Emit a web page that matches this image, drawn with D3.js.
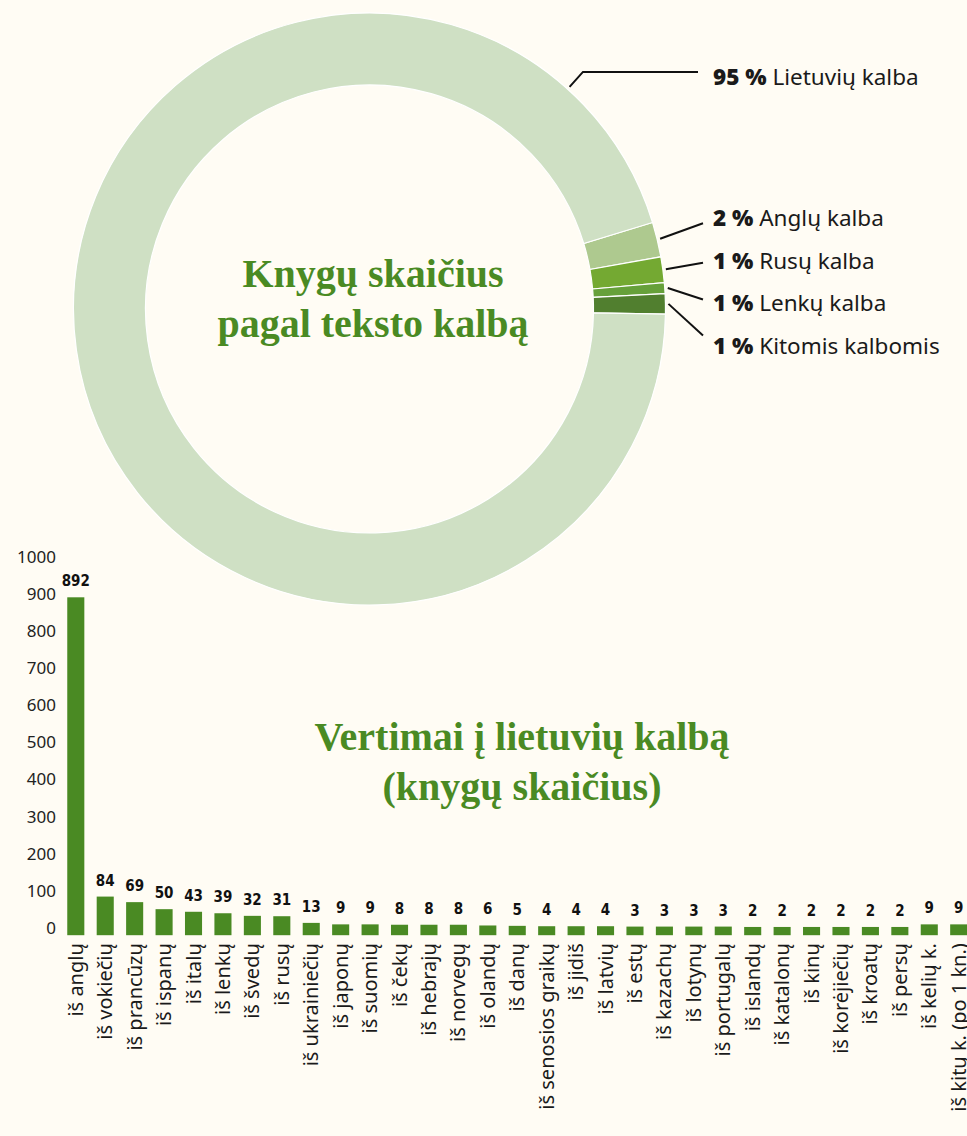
<!DOCTYPE html>
<html>
<head>
<meta charset="utf-8">
<script src="https://cdn.jsdelivr.net/npm/d3@7"></script>
<style>
  html, body { margin: 0; padding: 0; background: #fffcf4; }
  svg { display: block; }
</style>
</head>
<body>
<script>
// donut: share of books by text language (%)
var languages = ["Anglų kalba", "Rusų kalba", "Lenkų kalba", "Kitomis kalbomis", "Lietuvių kalba"];
var shares = [1.9, 1.4, 0.6, 1.1, 95.0];
var shareLabels = ["2 %", "1 %", "1 %", "1 %", "95 %"];
var sliceColors = ["#aec98f", "#74a932", "#66a03a", "#517f2f", "#cfe0c4"];

// bars: translations into Lithuanian (number of books)
var sources = ["iš anglų", "iš vokiečių", "iš prancūzų", "iš ispanų", "iš italų", "iš lenkų",
  "iš švedų", "iš rusų", "iš ukrainiečių", "iš japonų", "iš suomių", "iš čekų", "iš hebrajų",
  "iš norvegų", "iš olandų", "iš danų", "iš senosios graikų", "iš jidiš", "iš latvių", "iš estų",
  "iš kazachų", "iš lotynų", "iš portugalų", "iš islandų", "iš katalonų", "iš kinų",
  "iš korėjiečių", "iš kroatų", "iš persų", "iš kelių k.", "iš kitų k. (po 1 kn.)"];
var books = [892, 84, 69, 50, 43, 39, 32, 31, 13, 9, 9, 8, 8, 8, 6, 5, 4, 4, 4, 3, 3, 3, 3,
  2, 2, 2, 2, 2, 2, 9, 9];
var yTicks = [0, 100, 200, 300, 400, 500, 600, 700, 800, 900, 1000];

var green = "#4a8a23";
var sans = "'Noto Sans', 'Open Sans', sans-serif";
var width = 967, height = 1136;

var svg = d3.select("body").append("svg")
    .attr("width", width)
    .attr("height", height);

// ---- donut ----
var cx = 369.5, cy = 309, rOuter = 296, rInner = 224;
var deg = Math.PI / 180;
var start = 73 * deg;

var pie = d3.pie().sort(null).startAngle(start).endAngle(start + 2 * Math.PI);
var arcs = pie(shares);
var arc = d3.arc().innerRadius(rInner).outerRadius(rOuter);

var donut = svg.append("g").attr("transform", "translate(" + cx + "," + cy + ")");
donut.selectAll("path")
  .data(arcs)
  .enter().append("path")
    .attr("d", arc)
    .attr("fill", function(d, i) { return sliceColors[i]; })
    .attr("stroke", "#fff")
    .attr("stroke-width", 1.2);

function polar(a, r) { return [Math.sin(a) * r, -Math.cos(a) * r]; }

var labelX = 713, lineEndX = 703;
var labels = svg.append("g");
arcs.forEach(function(d, i) {
  var ly, pts;
  if (i === arcs.length - 1) {
    // big slice: label at the top right with an elbow line
    ly = 77;
    var a = 42 * deg;
    var p0 = polar(a, rOuter + 3), p1 = polar(a, rOuter + 23);
    pts = [[cx + p0[0], cy + p0[1]], [cx + p1[0], cy + p1[1]], [lineEndX - 5, cy + p1[1]]];
  } else {
    ly = 218 + i * 42.7;
    var m = (d.startAngle + d.endAngle) / 2;
    var s = polar(m, rOuter + 3);
    var sy = cy + s[1];
    pts = [[cx + s[0], sy], [lineEndX, ly + (sy - ly) * 0.25]];
  }
  labels.append("path")
    .attr("d", d3.line()(pts))
    .attr("fill", "none")
    .attr("stroke", "#111")
    .attr("stroke-width", 2);
  var t = labels.append("text")
    .attr("x", labelX)
    .attr("y", ly)
    .attr("dy", "0.35em")
    .style("font-family", sans)
    .style("font-size", "22.5px")
    .attr("fill", "#1a1a1a");
  t.append("tspan").style("font-weight", 900).text(shareLabels[i] + " ");
  t.append("tspan").text(languages[i]);
});

function title(lines, x, y) {
  var t = svg.append("text")
    .attr("text-anchor", "middle")
    .style("font-family", "'Liberation Serif', 'DejaVu Serif', serif")
    .style("font-weight", "bold")
    .style("font-size", "40px")
    .attr("fill", green);
  lines.forEach(function(l, i) {
    t.append("tspan").attr("x", x).attr("y", y + i * 50).text(l);
  });
}
title(["Knygų skaičius", "pagal teksto kalbą"], 373, 287);

// ---- bar chart ----
var y = d3.scaleLinear().domain([0, 1000]).range([927.7, 557.3]);
var x = d3.scaleBand().domain(sources).range([54.9, 979.6]).padding(0.42);
var barBase = y(0) + 7.5;

svg.append("g")
    .attr("transform", "translate(56,0)")
    .call(d3.axisLeft(y).tickValues(yTicks).tickFormat(d3.format("d")).tickSize(0).tickPadding(0))
    .call(function(g) { g.select(".domain").remove(); })
    .selectAll("text")
      .style("font-family", sans)
      .style("font-size", "17px")
      .attr("fill", "#222");

svg.append("g").selectAll("rect")
  .data(books)
  .enter().append("rect")
    .attr("x", function(d, i) { return x(sources[i]); })
    .attr("y", function(d) { return y(d); })
    .attr("width", x.bandwidth())
    .attr("height", function(d) { return barBase - y(d); })
    .attr("fill", green);

svg.append("g").selectAll("text")
  .data(books)
  .enter().append("text")
    .attr("x", function(d, i) { return x(sources[i]) + x.bandwidth() / 2; })
    .attr("y", function(d) { return Math.min(y(d) - 11, 917); })
    .attr("text-anchor", "middle")
    .style("font-family", "'DejaVu Sans Condensed', sans-serif")
    .style("font-stretch", "condensed")
    .style("font-weight", "bold")
    .style("font-size", "15px")
    .attr("fill", "#111")
    .text(function(d) { return d; });

svg.append("g").selectAll("text")
  .data(sources)
  .enter().append("text")
    .attr("transform", function(d) {
      return "translate(" + (x(d) + x.bandwidth() / 2) + "," + (barBase + 8) + ") rotate(-90)";
    })
    .attr("dy", "0.35em")
    .attr("text-anchor", "end")
    .style("font-family", sans)
    .style("font-size", "20px")
    .attr("fill", "#1a1a1a")
    .text(function(d) { return d; });

title(["Vertimai į lietuvių kalbą", "(knygų skaičius)"], 522, 750);
</script>
</body>
</html>
